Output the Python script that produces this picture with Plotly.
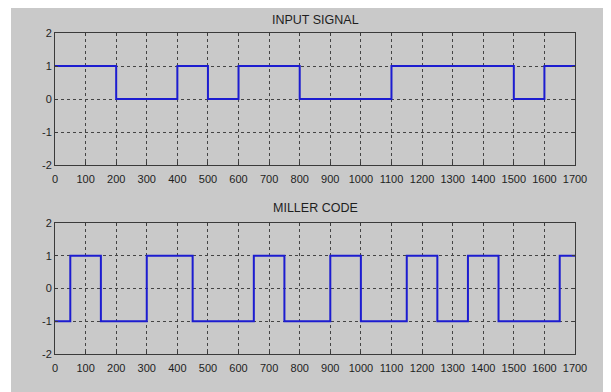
import plotly.graph_objects as go
from plotly.subplots import make_subplots

# Input signal: one bit per 100 time units
input_time = [0, 100, 200, 300, 400, 500, 600, 700, 800, 900, 1000, 1100, 1200, 1300, 1400, 1500, 1600, 1700]
input_level = [1, 1, 0, 0, 1, 0, 1, 1, 0, 0, 0, 1, 1, 1, 1, 0, 1, 1]

# Miller code: transition times and level held after each
miller_time = [0, 50, 150, 300, 450, 650, 750, 900, 1000, 1150, 1250, 1350, 1450, 1650, 1700]
miller_level = [-1, 1, -1, 1, -1, 1, -1, 1, -1, 1, -1, 1, -1, 1, 1]

x_ticks = [0, 100, 200, 300, 400, 500, 600, 700, 800, 900, 1000, 1100, 1200, 1300, 1400, 1500, 1600, 1700]
y_ticks = [-2, -1, 0, 1, 2]
titles = ["INPUT SIGNAL", "MILLER CODE"]

# page body has an 8px margin, so the figure is sized to fill the rest of the 611x392 window
OFF = 8
W, H = 611 - OFF, 392 - OFF

fig = make_subplots(rows=2, cols=1)

line_color = "#1c1cd0"
fig.add_trace(go.Scatter(x=input_time, y=input_level, mode="lines", line=dict(shape="hv", color=line_color, width=2),
                         showlegend=False, hoverinfo="skip"), row=1, col=1)
fig.add_trace(go.Scatter(x=miller_time, y=miller_level, mode="lines", line=dict(shape="hv", color=line_color, width=2),
                         showlegend=False, hoverinfo="skip"), row=2, col=1)

def px_x(w):
    return (w - OFF) / W

def px_y(h):
    return 1 - (h - OFF) / H

xd = [px_x(55), px_x(575)]
yd1 = [px_y(165), px_y(33)]
yd2 = [px_y(354), px_y(223)]

axis_common = dict(showline=True, mirror="ticks", linecolor="#3a3a3a", linewidth=1,
                   ticks="inside", ticklen=3, tickcolor="#3a3a3a",
                   showgrid=True, gridcolor="#444444", griddash="dot", gridwidth=1,
                   zeroline=False, automargin=False,
                   tickfont=dict(family="Liberation Sans, Arial", size=11, color="#1e1e1e"))

for i, yd in enumerate([yd1, yd2], start=1):
    fig.update_xaxes(domain=xd, range=[0, 1700], tickvals=x_ticks, ticktext=[str(v) for v in x_ticks],
                     ticklabelstandoff=4, row=i, col=1, **axis_common)
    fig.update_yaxes(domain=yd, range=[-2, 2], tickvals=y_ticks, ticktext=[str(v) for v in y_ticks],
                     row=i, col=1, **axis_common)

title_font = dict(family="Liberation Sans, Arial", size=12.5, color="#1e1e1e")
fig.add_annotation(text=titles[0], x=0.5 * (xd[0] + xd[1]), y=px_y(20), xref="paper", yref="paper",
                   xanchor="center", yanchor="middle", showarrow=False, font=title_font)
fig.add_annotation(text=titles[1], x=0.5 * (xd[0] + xd[1]), y=px_y(208), xref="paper", yref="paper",
                   xanchor="center", yanchor="middle", showarrow=False, font=title_font)

# gray figure background (leaves a white strip at the left like the reference)
fig.add_shape(type="rect", xref="paper", yref="paper", x0=px_x(11), x1=1.0, y0=0, y1=1,
              fillcolor="#c9c9c9", line=dict(width=0), layer="below")

fig.update_layout(width=W, height=H, margin=dict(l=0, r=0, t=0, b=0),
                  paper_bgcolor="white", plot_bgcolor="white")

fig.write_html("out.html")
